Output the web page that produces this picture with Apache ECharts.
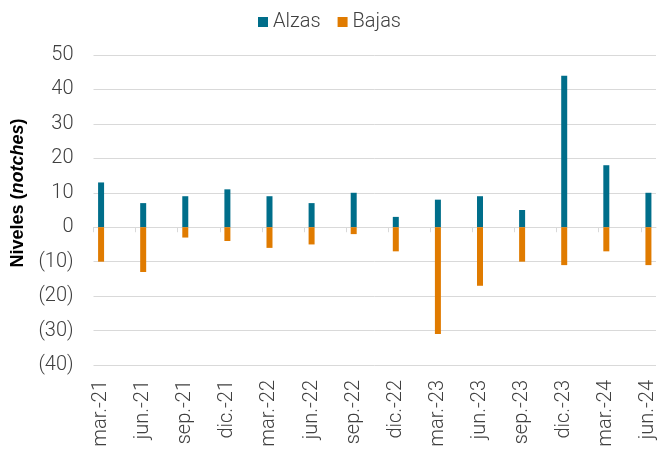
<!DOCTYPE html>
<html>
<head>
<meta charset="utf-8">
<script src="https://cdn.jsdelivr.net/npm/echarts@6/dist/echarts.min.js"></script>
<style>
  html, body { margin: 0; padding: 0; background: #fff; }
  #chart { width: 659px; height: 451px; }
</style>
</head>
<body>
<div id="chart"></div>
<script>
const categories = ['mar.-21', 'jun.-21', 'sep.-21', 'dic.-21', 'mar.-22', 'jun.-22', 'sep.-22',
  'dic.-22', 'mar.-23', 'jun.-23', 'sep.-23', 'dic.-23', 'mar.-24', 'jun.-24'];
const alzas = [13, 7, 9, 11, 9, 7, 10, 3, 8, 9, 5, 44, 18, 10];
const bajas = [-10, -13, -3, -4, -6, -5, -2, -7, -31, -17, -10, -11, -7, -11];
const yTicks = [-40, -30, -20, -10, 0, 10, 20, 30, 40, 50];

// excel puts the tick marks a bit left of each bar
const tickShift = 0.18;
const idx = categories.map((c, i) => i);
const xMin = -tickShift;
const xMax = 13.18;

const textColor = '#404040';
const gridColor = '#D9D9D9';
const font = 'Roboto';

const chart = echarts.init(document.getElementById('chart'));

const option = {
  animation: false,
  backgroundColor: '#fff',
  textStyle: { fontFamily: font },
  legend: {
    data: ['Alzas', 'Bajas'],
    top: 7,
    left: 'center',
    icon: 'rect',
    itemWidth: 10,
    itemHeight: 10,
    itemGap: 17,
    textStyle: { fontSize: 20, color: textColor, fontFamily: font, fontWeight: 300 }
  },
  grid: { left: 93.5, right: 3, top: 55, bottom: 86, containLabel: false },
  xAxis: [
    {
      type: 'value',
      min: xMin,
      max: xMax,
      position: 'bottom',
      axisLine: { show: false, onZero: false },
      axisTick: { show: false },
      splitLine: { show: false },
      axisLabel: {
        customValues: idx,
        rotate: 90,
        margin: 15,
        fontSize: 20,
        color: textColor,
        fontFamily: font,
        fontWeight: 300,
        formatter: v => categories[Math.round(v)] || ''
      }
    },
    {
      type: 'value',
      min: xMin,
      max: xMax,
      position: 'bottom',
      axisLine: { show: true, onZero: true, lineStyle: { color: gridColor, width: 1 } },
      axisTick: {
        show: true,
        customValues: idx.map(i => i - tickShift),
        length: 5,
        lineStyle: { color: gridColor, width: 1 }
      },
      axisLabel: { show: false },
      splitLine: { show: false }
    }
  ],
  yAxis: {
    type: 'value',
    min: yTicks[0],
    max: yTicks[yTicks.length - 1],
    interval: 10,
    name: '{b|Niveles (}{bi|notches}{b|)}',
    nameLocation: 'middle',
    nameRotate: 90,
    nameGap: 62,
    nameTextStyle: {
      padding: [0, 0, 0, 34],
      rich: {
        b: { fontSize: 18, fontWeight: 'bold', color: '#000', fontFamily: 'Liberation Sans' },
        bi: { fontSize: 18, fontWeight: 'bold', fontStyle: 'italic', color: '#000', fontFamily: 'Liberation Sans' }
      }
    },
    axisLine: { show: false },
    axisTick: { show: false },
    splitLine: { show: true, lineStyle: { color: gridColor, width: 1 } },
    axisLabel: {
      margin: 20,
      fontSize: 20,
      color: textColor,
      fontFamily: font,
      fontWeight: 300,
      formatter: v => v < 0 ? '(' + (-v) + ')' : String(v)
    }
  },
  series: [
    {
      name: 'Alzas',
      type: 'bar',
      stack: 'niv',
      barWidth: 6,
      xAxisIndex: 0,
      itemStyle: { color: '#006E8A' },
      data: alzas.map((v, i) => [i, v])
    },
    {
      name: 'Bajas',
      type: 'bar',
      stack: 'niv',
      barWidth: 6,
      xAxisIndex: 0,
      itemStyle: { color: '#E07B00' },
      data: bajas.map((v, i) => [i, v])
    }
  ]
};

chart.setOption(option);
</script>
</body>
</html>
